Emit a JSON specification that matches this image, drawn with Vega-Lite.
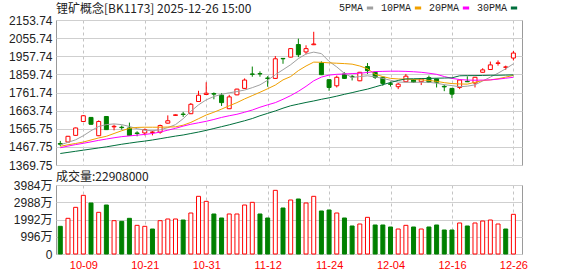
{
 "$schema": "https://vega.github.io/schema/vega-lite/v6.json",
 "autosize": {"type": "pad"},
 "padding": {"left": 8, "top": 2, "right": 10, "bottom": 2},
 "background": "#ffffff",
 "spacing": 20,
 "bounds": "flush",
 "config": {
  "view": {"stroke": "#9a9a9a", "strokeWidth": 1},
  "axis": {"ticks": false, "domain": false, "labelFont": "Liberation Sans, Noto Sans CJK SC", "labelFontSize": 12, "labelColor": "#222222", "gridColor": "#cfcfcf", "gridWidth": 1, "labelPadding": 4, "labelOverlap": false},
  "title": {"font": "Noto Sans CJK SC", "fontSize": 12, "fontWeight": "normal", "color": "#222222", "anchor": "start", "frame": "group"}
 },
 "datasets": {
  "k": [
   {"d":"09-26","o":1486,"h":1500,"l":1472,"c":1482,"vol":1598,"vu":0,"5PMA":1479,"10PMA":1471,"20PMA":1463,"30PMA":1432},
   {"d":"09-29","o":1494,"h":1527,"l":1492,"c":1525,"vol":2060,"vu":1,"5PMA":1492,"10PMA":1479,"20PMA":1472,"30PMA":1438},
   {"d":"09-30","o":1530,"h":1572,"l":1528,"c":1570,"vol":2694,"vu":1,"5PMA":1506,"10PMA":1486,"20PMA":1480,"30PMA":1444},
   {"d":"10-09","o":1605,"h":1640,"l":1603,"c":1636,"vol":3387,"vu":1,"5PMA":1528,"10PMA":1494,"20PMA":1487,"30PMA":1450},
   {"d":"10-10","o":1627,"h":1629,"l":1587,"c":1590,"vol":2945,"vu":0,"5PMA":1555,"10PMA":1505,"20PMA":1495,"30PMA":1456},
   {"d":"10-13","o":1528,"h":1611,"l":1526,"c":1605,"vol":2406,"vu":1,"5PMA":1578,"10PMA":1516,"20PMA":1503,"30PMA":1462},
   {"d":"10-14","o":1632,"h":1634,"l":1559,"c":1561,"vol":2829,"vu":0,"5PMA":1588,"10PMA":1525,"20PMA":1510,"30PMA":1468},
   {"d":"10-15","o":1576,"h":1588,"l":1557,"c":1579,"vol":1924,"vu":1,"5PMA":1592,"10PMA":1540,"20PMA":1517,"30PMA":1475},
   {"d":"10-16","o":1574,"h":1583,"l":1561,"c":1572,"vol":1886,"vu":0,"5PMA":1588,"10PMA":1555,"20PMA":1523,"30PMA":1482},
   {"d":"10-17","o":1570,"h":1599,"l":1528,"c":1530,"vol":2060,"vu":0,"5PMA":1578,"10PMA":1568,"20PMA":1527,"30PMA":1488},
   {"d":"10-20","o":1543,"h":1552,"l":1525,"c":1540,"vol":1655,"vu":1,"5PMA":1566,"10PMA":1573,"20PMA":1531,"30PMA":1494},
   {"d":"10-21","o":1543,"h":1567,"l":1530,"c":1561,"vol":1598,"vu":1,"5PMA":1558,"10PMA":1574,"20PMA":1535,"30PMA":1499},
   {"d":"10-22","o":1546,"h":1555,"l":1530,"c":1548,"vol":1443,"vu":0,"5PMA":1555,"10PMA":1574,"20PMA":1540,"30PMA":1505},
   {"d":"10-23","o":1547,"h":1588,"l":1539,"c":1583,"vol":1924,"vu":1,"5PMA":1560,"10PMA":1574,"20PMA":1548,"30PMA":1512},
   {"d":"10-24","o":1596,"h":1638,"l":1594,"c":1609,"vol":2021,"vu":1,"5PMA":1572,"10PMA":1575,"20PMA":1558,"30PMA":1519},
   {"d":"10-27","o":1638,"h":1643,"l":1636,"c":1641,"vol":2021,"vu":1,"5PMA":1588,"10PMA":1576,"20PMA":1568,"30PMA":1526},
   {"d":"10-28","o":1645,"h":1657,"l":1630,"c":1643,"vol":1963,"vu":0,"5PMA":1620,"10PMA":1585,"20PMA":1580,"30PMA":1532},
   {"d":"10-29","o":1647,"h":1705,"l":1645,"c":1698,"vol":2367,"vu":1,"5PMA":1660,"10PMA":1600,"20PMA":1590,"30PMA":1540},
   {"d":"10-30","o":1713,"h":1771,"l":1711,"c":1747,"vol":3330,"vu":1,"5PMA":1695,"10PMA":1620,"20PMA":1598,"30PMA":1548},
   {"d":"10-31","o":1751,"h":1817,"l":1749,"c":1758,"vol":3041,"vu":1,"5PMA":1722,"10PMA":1640,"20PMA":1606,"30PMA":1557},
   {"d":"11-03","o":1756,"h":1762,"l":1725,"c":1753,"vol":2310,"vu":0,"5PMA":1740,"10PMA":1655,"20PMA":1616,"30PMA":1567},
   {"d":"11-04","o":1747,"h":1758,"l":1689,"c":1707,"vol":2079,"vu":0,"5PMA":1752,"10PMA":1672,"20PMA":1627,"30PMA":1577},
   {"d":"11-05","o":1674,"h":1749,"l":1672,"c":1738,"vol":2310,"vu":1,"5PMA":1760,"10PMA":1690,"20PMA":1636,"30PMA":1587},
   {"d":"11-06","o":1749,"h":1782,"l":1747,"c":1780,"vol":2310,"vu":1,"5PMA":1767,"10PMA":1707,"20PMA":1644,"30PMA":1598},
   {"d":"11-07","o":1784,"h":1838,"l":1782,"c":1829,"vol":2829,"vu":1,"5PMA":1775,"10PMA":1727,"20PMA":1655,"30PMA":1609},
   {"d":"11-10","o":1862,"h":1902,"l":1847,"c":1860,"vol":2983,"vu":1,"5PMA":1788,"10PMA":1745,"20PMA":1667,"30PMA":1621},
   {"d":"11-11","o":1864,"h":1876,"l":1847,"c":1862,"vol":2310,"vu":0,"5PMA":1803,"10PMA":1763,"20PMA":1682,"30PMA":1636},
   {"d":"11-12","o":1840,"h":1850,"l":1793,"c":1838,"vol":2079,"vu":0,"5PMA":1828,"10PMA":1782,"20PMA":1695,"30PMA":1649},
   {"d":"11-13","o":1838,"h":1959,"l":1836,"c":1944,"vol":3676,"vu":1,"5PMA":1858,"10PMA":1802,"20PMA":1707,"30PMA":1662},
   {"d":"11-14","o":1946,"h":1946,"l":1917,"c":1944,"vol":2656,"vu":0,"5PMA":1885,"10PMA":1830,"20PMA":1725,"30PMA":1677},
   {"d":"11-17","o":1953,"h":2001,"l":1951,"c":1999,"vol":3118,"vu":1,"5PMA":1912,"10PMA":1848,"20PMA":1745,"30PMA":1690},
   {"d":"11-18","o":2021,"h":2053,"l":1953,"c":1966,"vol":3176,"vu":0,"5PMA":1945,"10PMA":1880,"20PMA":1768,"30PMA":1699},
   {"d":"11-19","o":1981,"h":2017,"l":1968,"c":1999,"vol":2945,"vu":1,"5PMA":1970,"10PMA":1905,"20PMA":1795,"30PMA":1708},
   {"d":"11-20","o":2020,"h":2090,"l":2018,"c":2024,"vol":3330,"vu":1,"5PMA":1980,"10PMA":1926,"20PMA":1825,"30PMA":1716},
   {"d":"11-21","o":1921,"h":1930,"l":1856,"c":1858,"vol":2483,"vu":0,"5PMA":1972,"10PMA":1925,"20PMA":1845,"30PMA":1725},
   {"d":"11-24","o":1831,"h":1833,"l":1771,"c":1789,"vol":2541,"vu":0,"5PMA":1930,"10PMA":1922,"20PMA":1856,"30PMA":1733},
   {"d":"11-25","o":1798,"h":1853,"l":1789,"c":1844,"vol":2367,"vu":1,"5PMA":1900,"10PMA":1920,"20PMA":1860,"30PMA":1742},
   {"d":"11-26","o":1862,"h":1871,"l":1835,"c":1838,"vol":2079,"vu":0,"5PMA":1865,"10PMA":1918,"20PMA":1862,"30PMA":1752},
   {"d":"11-27","o":1849,"h":1856,"l":1827,"c":1846,"vol":1617,"vu":0,"5PMA":1843,"10PMA":1915,"20PMA":1864,"30PMA":1761},
   {"d":"11-28","o":1825,"h":1873,"l":1823,"c":1871,"vol":1732,"vu":1,"5PMA":1848,"10PMA":1905,"20PMA":1866,"30PMA":1771},
   {"d":"12-01","o":1902,"h":1921,"l":1862,"c":1880,"vol":2117,"vu":1,"5PMA":1852,"10PMA":1890,"20PMA":1870,"30PMA":1780},
   {"d":"12-02","o":1871,"h":1873,"l":1835,"c":1844,"vol":1675,"vu":0,"5PMA":1846,"10PMA":1860,"20PMA":1875,"30PMA":1792},
   {"d":"12-03","o":1844,"h":1846,"l":1798,"c":1811,"vol":1675,"vu":0,"5PMA":1838,"10PMA":1848,"20PMA":1876,"30PMA":1804},
   {"d":"12-04","o":1809,"h":1821,"l":1794,"c":1806,"vol":1559,"vu":0,"5PMA":1828,"10PMA":1838,"20PMA":1877,"30PMA":1816},
   {"d":"12-05","o":1793,"h":1813,"l":1780,"c":1807,"vol":1443,"vu":1,"5PMA":1818,"10PMA":1835,"20PMA":1877,"30PMA":1827},
   {"d":"12-08","o":1820,"h":1862,"l":1818,"c":1850,"vol":1655,"vu":1,"5PMA":1817,"10PMA":1834,"20PMA":1876,"30PMA":1835},
   {"d":"12-09","o":1831,"h":1833,"l":1815,"c":1817,"vol":1559,"vu":0,"5PMA":1817,"10PMA":1832,"20PMA":1874,"30PMA":1836},
   {"d":"12-10","o":1820,"h":1837,"l":1802,"c":1835,"vol":1443,"vu":1,"5PMA":1817,"10PMA":1830,"20PMA":1871,"30PMA":1837},
   {"d":"12-11","o":1842,"h":1853,"l":1815,"c":1817,"vol":1559,"vu":0,"5PMA":1817,"10PMA":1827,"20PMA":1866,"30PMA":1838},
   {"d":"12-12","o":1835,"h":1837,"l":1789,"c":1817,"vol":1675,"vu":0,"5PMA":1812,"10PMA":1822,"20PMA":1860,"30PMA":1839},
   {"d":"12-15","o":1795,"h":1804,"l":1769,"c":1792,"vol":1386,"vu":0,"5PMA":1804,"10PMA":1815,"20PMA":1848,"30PMA":1840},
   {"d":"12-16","o":1784,"h":1786,"l":1731,"c":1753,"vol":1386,"vu":0,"5PMA":1799,"10PMA":1810,"20PMA":1838,"30PMA":1841},
   {"d":"12-17","o":1789,"h":1831,"l":1780,"c":1829,"vol":1790,"vu":1,"5PMA":1793,"10PMA":1808,"20PMA":1832,"30PMA":1852},
   {"d":"12-18","o":1822,"h":1849,"l":1818,"c":1820,"vol":1617,"vu":0,"5PMA":1796,"10PMA":1807,"20PMA":1829,"30PMA":1853},
   {"d":"12-19","o":1813,"h":1846,"l":1789,"c":1844,"vol":1790,"vu":1,"5PMA":1803,"10PMA":1817,"20PMA":1828,"30PMA":1853},
   {"d":"12-22","o":1871,"h":1893,"l":1869,"c":1884,"vol":1905,"vu":1,"5PMA":1824,"10PMA":1826,"20PMA":1829,"30PMA":1854},
   {"d":"12-23","o":1886,"h":1929,"l":1884,"c":1911,"vol":1963,"vu":1,"5PMA":1845,"10PMA":1830,"20PMA":1830,"30PMA":1855},
   {"d":"12-24","o":1919,"h":1935,"l":1907,"c":1922,"vol":1732,"vu":1,"5PMA":1866,"10PMA":1836,"20PMA":1834,"30PMA":1855},
   {"d":"12-25","o":1898,"h":1907,"l":1884,"c":1900,"vol":1443,"vu":0,"5PMA":1890,"10PMA":1845,"20PMA":1839,"30PMA":1856},
   {"d":"12-26","o":1948,"h":1986,"l":1935,"c":1975,"vol":2290.8,"vu":1,"5PMA":1917,"10PMA":1854,"20PMA":1844,"30PMA":1857}
  ]
 },
 "vconcat": [
  {
   "width": 466,
   "height": 145,
   "title": {"text": "锂矿概念[BK1173] 2025-12-26 15:00", "offset": -2},
   "data": {"name": "k"},
   "encoding": {
    "x": {"field": "d", "type": "ordinal", "title": null,
          "scale": {"type": "point", "padding": 0.84, "align": 0.333},
          "axis": {"values": ["10-09","10-21","10-31","11-12","11-24","12-04","12-16","12-26"], "labels": false, "grid": true, "gridDash": [3,3], "gridColor": "#c4c4c4"}}
   },
   "layer": [
    {
     "mark": {"type": "rule", "strokeWidth": 1},
     "encoding": {
      "y": {"field": "l", "type": "quantitative", "title": null,
            "scale": {"domain": [1369.75, 2153.74], "nice": false, "zero": false},
            "axis": {"values": [1369.75,1467.75,1565.75,1663.74,1761.74,1859.74,1957.74,2055.74,2153.74], "format": ".2f", "grid": true, "labelOverlap": false, "labelBound": false, "labelFlush": false}},
      "y2": {"field": "h"},
      "color": {"condition": {"test": "datum.c >= datum.o", "value": "#ff0000"}, "value": "#008000"}
     }
    },
    {
     "mark": {"type": "bar", "size": 4, "strokeWidth": 1},
     "encoding": {
      "y": {"field": "o", "type": "quantitative", "title": null,
            "axis": {"values": [1369.75,1467.75,1565.75,1663.74,1761.74,1859.74,1957.74,2055.74,2153.74], "format": ".2f", "grid": true, "labelOverlap": false, "labelBound": false, "labelFlush": false}},
      "y2": {"field": "c"},
      "fill": {"condition": {"test": "datum.c >= datum.o", "value": "#ffffff"}, "value": "#008000"},
      "stroke": {"condition": {"test": "datum.c >= datum.o", "value": "#ff0000"}, "value": "#008000"}
     }
    },
    {
     "transform": [{"fold": ["5PMA", "10PMA", "20PMA", "30PMA"], "as": ["k", "ma"]}],
     "mark": {"type": "line", "strokeWidth": 1},
     "encoding": {
      "y": {"field": "ma", "type": "quantitative", "title": null,
            "axis": {"values": [1369.75,1467.75,1565.75,1663.74,1761.74,1859.74,1957.74,2055.74,2153.74], "format": ".2f", "grid": true, "labelOverlap": false, "labelBound": false, "labelFlush": false}},
      "color": {"field": "k", "type": "nominal",
                "scale": {"domain": ["5PMA", "10PMA", "20PMA", "30PMA"], "range": ["#a0a0a0", "#f0a000", "#ff00ff", "#006f3c"]},
                "legend": {"orient": "none", "legendX": 309, "legendY": -17, "direction": "horizontal", "title": null,
                           "symbolType": "stroke", "symbolStrokeWidth": 3, "symbolSize": 40,
                           "labelFont": "Liberation Mono", "labelFontSize": 10, "labelColor": "#222222",
                           "labelAlign": "right", "labelOffset": -12, "columnPadding": 0}}
     }
    }
   ]
  },
  {
   "width": 466,
   "height": 69,
   "title": {"text": "成交量:22908000", "offset": -5},
   "data": {"name": "k"},
   "mark": {"type": "bar", "size": 4, "strokeWidth": 1},
   "encoding": {
    "x": {"field": "d", "type": "ordinal", "title": null,
          "scale": {"type": "point", "padding": 0.84, "align": 0.333},
          "axis": {"values": ["10-09","10-21","10-31","11-12","11-24","12-04","12-16","12-26"], "labelColor": "#ff0000", "labelFontSize": 11, "labelAngle": 0, "labelPadding": 5, "grid": true, "gridDash": [3,3], "gridColor": "#c4c4c4"}},
    "y": {"field": "vol", "type": "quantitative", "title": null,
          "scale": {"domain": [0, 3984], "nice": false},
          "axis": {"values": [0, 996, 1992, 2988, 3984], "labelExpr": "datum.value == 0 ? '0' : datum.value + '万'", "grid": true}},
    "fill": {"condition": {"test": "datum.vu == 1", "value": "#ffffff"}, "value": "#008000"},
    "stroke": {"condition": {"test": "datum.vu == 1", "value": "#ff0000"}, "value": "#008000"}
   }
  }
 ],
 "resolve": {"scale": {"y": "independent"}}
}
